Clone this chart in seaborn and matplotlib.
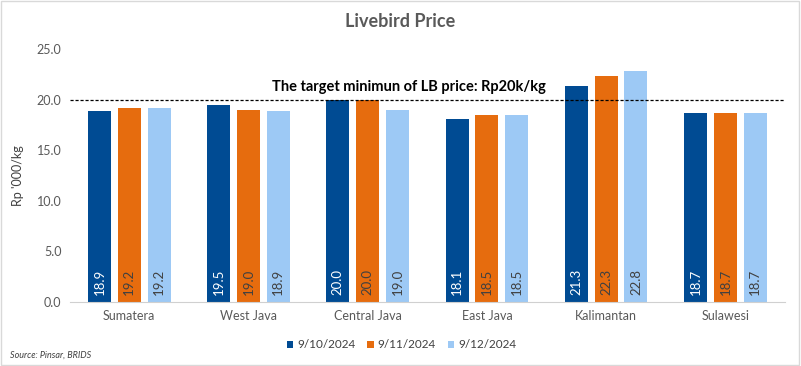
import pandas
import matplotlib
matplotlib.use("Agg")
import matplotlib.pyplot as plt
import seaborn as sns

regions = ["Sumatera", "West Java", "Central Java", "East Java", "Kalimantan", "Sulawesi"]
dates = ["9/10/2024", "9/11/2024", "9/12/2024"]
price_0910 = [18.9, 19.5, 20.0, 18.1, 21.3, 18.7]
price_0911 = [19.2, 19.0, 20.0, 18.5, 22.3, 18.7]
price_0912 = [19.2, 18.9, 19.0, 18.5, 22.8, 18.7]
target = 20.0

colors = ["#004B93", "#E66C0E", "#9DC9F5"]
label_colors = ["white", "#404040", "#404040"]

data = pandas.DataFrame({
    "Region": regions * 3,
    "Date": [dates[0]] * 6 + [dates[1]] * 6 + [dates[2]] * 6,
    "Price": price_0910 + price_0911 + price_0912,
})

sns.set_style("white")
plt.rcParams["font.family"] = ["Lato", "DejaVu Sans"]

fig = plt.figure(figsize=(8.01, 3.66), dpi=100)
ax = fig.add_axes([0.087, 0.175, 0.893, 0.691])

sns.barplot(data=data, x="Region", y="Price", hue="Date", palette=colors,
            width=0.75, gap=0.23, ax=ax, saturation=1, linewidth=0)

# value labels inside the bars, near the bottom
for cont, lc in zip(ax.containers, label_colors):
    for bar, v in zip(cont, cont.datavalues):
        ax.text(bar.get_x() + bar.get_width() / 2, 1.95, "%.1f" % v, rotation=90,
                ha="center", va="center", color=lc, fontsize=9.5)

ax.axhline(target, color="black", linestyle=(0, (2.5, 1.5)), linewidth=0.9)
ax.text(0.2825, 0.85, "The target minimun of LB price: Rp20k/kg", transform=ax.transAxes,
        fontsize=10.5, fontweight="bold", color="black", ha="left", va="center")

ax.set_ylim(0, 25)
ax.set_yticks([0, 5, 10, 15, 20, 25])
ax.set_yticklabels(["%.1f" % t for t in [0, 5, 10, 15, 20, 25]])
ax.set_xlim(-0.5, 5.5)
ax.set_xlabel("")
ax.set_ylabel("Rp '000/kg", fontsize=9, color="#404040", labelpad=9)
ax.tick_params(axis="both", length=0, labelsize=9, colors="#595959", pad=6)
for s in ["top", "right", "left"]:
    ax.spines[s].set_visible(False)
ax.spines["bottom"].set_color("#D0D0D0")

leg = ax.legend(loc="center", bbox_to_anchor=(0.464, -0.17), ncol=3, frameon=False,
                fontsize=8.5, handlelength=0.55, handleheight=0.55, handletextpad=0.35,
                columnspacing=1.0)
for t in leg.get_texts():
    t.set_color("#404040")

fig.text(0.5, 0.94, "Livebird Price", ha="center", va="center", fontsize=13,
         fontweight="bold", color="#595959")
fig.text(0.012, 0.03, "Source: Pinsar, BRIDS", ha="left", va="center", fontsize=6.5,
         style="italic", color="#404040")
fig.patches.append(plt.Rectangle((0.001, 0.002), 0.997, 0.995, transform=fig.transFigure,
                                 fill=False, edgecolor="#D9D9D9", linewidth=1))

plt.savefig("out.png", dpi=100)
